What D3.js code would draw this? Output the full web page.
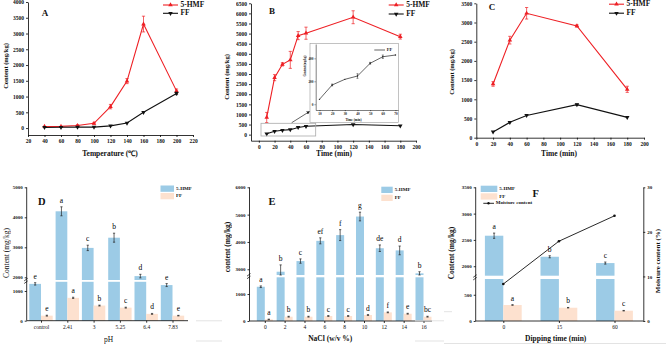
<!DOCTYPE html>
<html><head><meta charset="utf-8">
<script src="https://cdn.jsdelivr.net/npm/d3@7"></script>
<style>html,body{margin:0;padding:0;background:#fff;}svg{display:block;}svg text{opacity:0.999;}</style>
</head><body>
<svg id="fig" width="666" height="348"></svg>
<script>
// ---- Panel A: temperature series ----
const tempX = [40, 60, 80, 100, 120, 140, 160, 200];
const tempHMF = [50, 55, 80, 150, 680, 1490, 3300, 1180];
const tempHMFErr = [20, 20, 25, 30, 70, 80, 250, 60];
const tempFF = [20, 25, 30, 30, 70, 160, 500, 1100];
const tempFFErr = [5, 5, 5, 5, 10, 15, 20, 40];
const tempXTicks = [20, 40, 60, 80, 100, 120, 140, 160, 180, 200, 220];
const tempYTicks = [0, 500, 1000, 1500, 2000, 2500, 3000, 3500, 4000];

// ---- Panel B: frying time series ----
const timeX = [10, 20, 30, 40, 50, 60, 120, 180];
const timeHMF = [850, 2820, 3480, 3700, 4900, 5020, 5810, 4850];
const timeHMFErr = [250, 150, 80, 420, 200, 300, 320, 120];
const timeFF = [43, 168, 217, 246, 357, 414, 500, 440];
const timeFFErr = [5, 8, 6, 20, 8, 15, 20, 15];
const timeXTicks = [0, 20, 40, 60, 80, 100, 120, 140, 160, 180, 200];
const timeYTicks = [0, 500, 1000, 1500, 2000, 2500, 3000, 3500, 4000, 4500, 5000, 5500, 6000, 6500];
// inset: FF over the first 70 min
const insetX = [10, 20, 30, 40, 50, 60, 70];
const insetFF = [43, 168, 217, 246, 357, 414, 429];
const insetFFErr = [5, 8, 6, 20, 8, 15, 5];
const insetXTicks = [10, 20, 30, 40, 50, 60, 70];
const insetYTicks = [0, 200, 400];

// ---- Panel C: roasting time series ----
const roastX = [20, 40, 60, 120, 180];
const roastHMF = [1400, 2540, 3240, 2910, 1260];
const roastHMFErr = [60, 100, 150, 30, 80];
const roastFF = [150, 400, 580, 860, 530];
const roastFFErr = [10, 15, 15, 20, 15];
const roastXTicks = [0, 20, 40, 60, 80, 100, 120, 140, 160, 180, 200];
const roastYTicks = [0, 500, 1000, 1500, 2000, 2500, 3000, 3500];

// ---- Panel D: pH ----
const phCats = ["control", "2.41", "3", "5.25", "6.4", "7.83"];
const phHMF = [1240, 4200, 2980, 3320, 2040, 1200];
const phHMFErr = [40, 150, 90, 150, 60, 50];
const phFF = [170, 770, 510, 440, 230, 170];
const phFFErr = [15, 20, 15, 15, 15, 10];
const phHMFLetters = ["e", "a", "c", "b", "d", "e"];
const phFFLetters = ["e", "a", "b", "c", "d", "e"];

// ---- Panel E: NaCl ----
const saltCats = ["0", "2", "4", "6", "8", "10", "12", "14", "16"];
const saltHMF = [1270, 2910, 3300, 4040, 4250, 4930, 3770, 3690, 2850];
const saltHMFErr = [30, 250, 80, 110, 200, 160, 120, 160, 60];
const saltFF = [60, 160, 160, 185, 185, 222, 320, 270, 160];
const saltFFErr = [10, 15, 15, 15, 15, 15, 15, 15, 15];
const saltHMFLetters = ["a", "b", "c", "ef", "f", "g", "de", "d", "b"];
const saltFFLetters = ["a", "b", "b", "c", "c", "d", "f", "e", "bc"];

// ---- Panel F: dipping time ----
const dipCats = ["0", "15", "60"];
const dipHMF = [2580, 2180, 2060];
const dipHMFErr = [50, 20, 20];
const dipFF = [305, 253, 196];
const dipFFErr = [5, 5, 5];
const dipMoisture = [8.3, 17.9, 23.6];
const dipHMFLetters = ["a", "b", "c"];
const dipFFLetters = ["a", "b", "c"];

const SERIF = "'Liberation Serif','Times New Roman',serif";
const RED = "#ee1f24";
const BLACK = "#111";
const BLUE = "#9ccbe6";
const PEACH = "#fde1cf";
const fmt = d3.format("d");

const svg = d3.select("#fig");

function styleAxis(g, size = 5.5) {
  g.attr("font-family", SERIF).attr("font-size", size);
  g.selectAll("path.domain").attr("stroke", "#000").attr("stroke-width", 0.8);
  g.selectAll(".tick line").attr("stroke", "#000").attr("stroke-width", 0.8);
  g.selectAll(".tick text").attr("font-weight", "bold").attr("fill", "#111");
}

function text(g, x, y, str, opt = {}) {
  const t = g.append("text").attr("x", x).attr("y", y).text(str)
    .attr("font-family", SERIF).attr("font-size", opt.size || 7)
    .attr("font-weight", opt.bold === false ? "normal" : "bold")
    .attr("text-anchor", opt.anchor || "middle")
    .attr("dominant-baseline", opt.baseline || "middle")
    .attr("fill", opt.fill || "#111");
  if (opt.rotate) t.attr("transform", `rotate(${opt.rotate},${x},${y})`);
  return t;
}

function errorBar(g, x, yTop, yBot, cap, color, sw = 0.7) {
  g.append("line").attr("x1", x).attr("x2", x).attr("y1", yTop).attr("y2", yBot)
    .attr("stroke", color).attr("stroke-width", sw);
  [yTop, yBot].forEach(yy => g.append("line").attr("x1", x - cap).attr("x2", x + cap)
    .attr("y1", yy).attr("y2", yy).attr("stroke", color).attr("stroke-width", sw));
}

function marker(g, x, y, down, color, size = 9) {
  g.append("path").attr("d", d3.symbol(d3.symbolTriangle, size)())
    .attr("transform", `translate(${x},${y}) rotate(${down ? 180 : 0})`)
    .attr("fill", color);
}

// line charts with error bars (A, B, C)
function linePanel(p) {
  const g = svg.append("g");
  const x = d3.scaleLinear().domain(p.xDomain).range(p.xRange);
  const y = d3.scaleLinear().domain(p.yDomain).range(p.yRange);
  g.append("g").attr("transform", `translate(0,${p.yRange[0]})`)
    .call(d3.axisBottom(x).tickValues(p.xTicks).tickFormat(fmt).tickSize(2).tickSizeOuter(0).tickPadding(2))
    .call(a => styleAxis(a));
  g.append("g").attr("transform", `translate(${p.xRange[0]},0)`)
    .call(d3.axisLeft(y).tickValues(p.yTicks).tickFormat(fmt).tickSize(2).tickSizeOuter(0).tickPadding(2))
    .call(a => styleAxis(a));
  p.series.forEach(s => {
    const pts = s.x.map((xv, i) => [x(xv), y(s.y[i])]);
    g.append("path").attr("d", d3.line()(pts)).attr("fill", "none")
      .attr("stroke", s.color).attr("stroke-width", 1.1);
    s.x.forEach((xv, i) => {
      const e = s.err[i];
      if (y(s.y[i] - e) - y(s.y[i] + e) > 1.5)
        errorBar(g, x(xv), y(s.y[i] + e), y(s.y[i] - e), 1.6, s.color);
    });
    pts.forEach(pt => marker(g, pt[0], pt[1], s.down, s.color));
  });
  // legend
  p.series.forEach((s, i) => {
    const ly = p.legend.y + i * p.legend.dy;
    g.append("line").attr("x1", p.legend.x).attr("x2", p.legend.x + 15)
      .attr("y1", ly).attr("y2", ly).attr("stroke", s.color).attr("stroke-width", 1.1);
    marker(g, p.legend.x + 7.5, ly, s.down, s.color);
    text(g, p.legend.x + 17.5, ly, s.name, { size: 7.5, anchor: "start" });
  });
  text(g, p.tag.x, p.tag.y, p.tag.t, { size: 9 });
  text(g, p.xTitle.x, p.xTitle.y, p.xTitle.t, { size: 7.5 });
  text(g, p.yTitle.x, p.yTitle.y, p.yTitle.t, { size: 6.5, rotate: -90 });
  return { g, x, y };
}

linePanel({
  xDomain: [20, 220], xRange: [28, 193], yDomain: [-220, 4000], yRange: [135, 2],
  xTicks: tempXTicks, yTicks: tempYTicks,
  series: [
    { name: "5-HMF", x: tempX, y: tempHMF, err: tempHMFErr, color: RED, down: false },
    { name: "FF", x: tempX, y: tempFF, err: tempFFErr, color: BLACK, down: true }
  ],
  legend: { x: 163, y: 5, dy: 8.3 },
  tag: { x: 45, y: 14, t: "A" },
  xTitle: { x: 110, y: 154.5, t: "Temperature (℃)" },
  yTitle: { x: 7, y: 66, t: "Content (mg/kg)" }
});

const B = linePanel({
  xDomain: [-10, 200], xRange: [251, 416], yDomain: [-300, 6500], yRange: [140.7, 3.3],
  xTicks: timeXTicks, yTicks: timeYTicks,
  series: [
    { name: "5-HMF", x: timeX, y: timeHMF, err: timeHMFErr, color: RED, down: false },
    { name: "FF", x: timeX, y: timeFF, err: timeFFErr, color: BLACK, down: true }
  ],
  legend: { x: 388.7, y: 5, dy: 9 },
  tag: { x: 272, y: 12, t: "B" },
  xTitle: { x: 334, y: 154.5, t: "Time (min)" },
  yTitle: { x: 228, y: 77, t: "Content (mg/kg)" }
});

// zoom window on the early FF values and its pointer to the inset
B.g.append("rect").attr("x", 261).attr("y", 123.3).attr("width", 54.7).attr("height", 12.7)
  .attr("fill", "none").attr("stroke", "#aaa").attr("stroke-width", 0.8);
svg.append("defs").append("marker").attr("id", "arr").attr("viewBox", "0 0 6 6")
  .attr("refX", 5).attr("refY", 3).attr("markerWidth", 5).attr("markerHeight", 5)
  .attr("orient", "auto").append("path").attr("d", "M0,0L6,3L0,6Z").attr("fill", "#222");
B.g.append("line").attr("x1", 291.7).attr("y1", 122.7).attr("x2", 309.5).attr("y2", 111.5)
  .attr("stroke", "#222").attr("stroke-width", 0.7).attr("marker-end", "url(#arr)");

// inset
(function inset() {
  const g = svg.append("g");
  g.append("rect").attr("x", 310).attr("y", 43.5).attr("width", 88.3).attr("height", 79)
    .attr("fill", "#fff").attr("stroke", "#999").attr("stroke-width", 0.6);
  const x = d3.scaleLinear().domain([7, 72]).range([315.7, 398]);
  const y = d3.scaleLinear().domain([-50, 525]).range([110, 44]);
  g.append("g").attr("transform", "translate(0,110)")
    .call(d3.axisBottom(x).tickValues(insetXTicks).tickFormat(fmt).tickSize(1.2).tickSizeOuter(0).tickPadding(1))
    .call(a => styleAxis(a, 3.4));
  g.append("g").attr("transform", "translate(315.7,0)")
    .call(d3.axisLeft(y).tickValues(insetYTicks).tickFormat(fmt).tickSize(1.2).tickSizeOuter(0).tickPadding(1))
    .call(a => styleAxis(a, 3.4));
  g.selectAll(".domain,.tick line").attr("stroke-width", 0.5);
  const pts = insetX.map((v, i) => [x(v), y(insetFF[i])]);
  g.append("path").attr("d", d3.line()(pts)).attr("fill", "none").attr("stroke", "#222").attr("stroke-width", 0.7);
  insetX.forEach((v, i) => {
    const e = insetFFErr[i];
    if (y(insetFF[i] - e) - y(insetFF[i] + e) > 1.5)
      errorBar(g, x(v), y(insetFF[i] + e), y(insetFF[i] - e), 1, "#222", 0.5);
  });
  g.selectAll(null).data(pts).join("circle").attr("cx", d => d[0]).attr("cy", d => d[1])
    .attr("r", 0.7).attr("fill", "#222");
  g.append("line").attr("x1", 374.3).attr("x2", 385).attr("y1", 50).attr("y2", 50)
    .attr("stroke", "#222").attr("stroke-width", 0.7);
  text(g, 386.7, 50, "FF", { size: 4.5, anchor: "start" });
  text(g, 353.5, 120.5, "Time (min)", { size: 3.4 });
  text(g, 305, 66, "Content (mg/kg)", { size: 3, rotate: -90 });
})();

linePanel({
  xDomain: [0, 200], xRange: [476.3, 644], yDomain: [0, 3500], yRange: [137.7, 3.3],
  xTicks: roastXTicks, yTicks: roastYTicks,
  series: [
    { name: "5-HMF", x: roastX, y: roastHMF, err: roastHMFErr, color: RED, down: false },
    { name: "FF", x: roastX, y: roastFF, err: roastFFErr, color: BLACK, down: true }
  ],
  legend: { x: 609, y: 4.2, dy: 9 },
  tag: { x: 492, y: 7.5, t: "C" },
  xTitle: { x: 559, y: 154.5, t: "Time (min)" },
  yTitle: { x: 453, y: 72, t: "Content (mg/kg)" }
});

// grouped bar charts on a broken y axis (D, E, F)
function barPanel(p) {
  const g = svg.append("g");
  const lo = d3.scaleLinear().domain(p.lower.domain).range(p.lower.range);
  const hi = d3.scaleLinear().domain(p.upper.domain).range(p.upper.range);
  const loMax = p.lower.domain[1];
  const yMap = v => v <= loMax ? lo(v) : hi(Math.max(v, p.upper.domain[0]));
  const y0 = p.lower.range[0];
  const xc = d3.scalePoint().domain(p.cats).range(p.centers);
  const w = p.barW;
  const series = [
    { vals: p.hmf, err: p.hmfErr, letters: p.hmfLetters, color: BLUE, off: -w },
    { vals: p.ff, err: p.ffErr, letters: p.ffLetters, color: PEACH, off: 0 }
  ];
  series.forEach(s => {
    s.vals.forEach((v, i) => {
      const x0 = xc(p.cats[i]) + s.off;
      if (v <= loMax) {
        g.append("rect").attr("x", x0).attr("y", lo(v)).attr("width", w).attr("height", y0 - lo(v)).attr("fill", s.color);
      } else {
        g.append("rect").attr("x", x0).attr("y", p.lower.range[1]).attr("width", w)
          .attr("height", y0 - p.lower.range[1]).attr("fill", s.color);
        g.append("rect").attr("x", x0).attr("y", hi(v)).attr("width", w)
          .attr("height", p.upper.range[0] - hi(v)).attr("fill", s.color);
      }
    });
  });
  series.forEach(s => {
    s.vals.forEach((v, i) => {
      const cx = xc(p.cats[i]) + s.off + w / 2;
      const top = yMap(v + s.err[i]);
      errorBar(g, cx, top, yMap(v - s.err[i]), 1.1, "#222", 0.7);
      text(g, cx, top - 4, s.letters[i], { size: 7.5, bold: false, baseline: "auto", fill: "#000" });
    });
  });
  // axes
  const left = p.axisX;
  g.append("line").attr("x1", left).attr("x2", left).attr("y1", y0).attr("y2", p.upper.range[1])
    .attr("stroke", "#000").attr("stroke-width", 0.8);
  g.append("line").attr("x1", left).attr("x2", p.axisRight).attr("y1", y0).attr("y2", y0)
    .attr("stroke", "#000").attr("stroke-width", 0.8);
  g.append("g").attr("transform", `translate(${left},0)`)
    .call(d3.axisLeft(lo).tickValues(p.lower.ticks).tickFormat(fmt).tickSize(2).tickSizeOuter(0).tickPadding(2))
    .call(a => { styleAxis(a, 5); a.select(".domain").remove(); });
  g.append("g").attr("transform", `translate(${left},0)`)
    .call(d3.axisLeft(hi).tickValues(p.upper.ticks).tickFormat(fmt).tickSize(2).tickSizeOuter(0).tickPadding(2))
    .call(a => { styleAxis(a, 5); a.select(".domain").remove(); });
  g.append("g").attr("transform", `translate(0,${y0})`)
    .call(d3.axisBottom(xc).tickSize(2).tickSizeOuter(0).tickPadding(2.5))
    .call(a => { styleAxis(a, 5.5); a.select(".domain").remove(); a.selectAll(".tick text").attr("font-weight", "normal"); });
  // break marks on the value axis
  const by = (p.lower.range[1] + p.upper.range[0]) / 2;
  [-1.3, 1.3].forEach(d => g.append("line")
    .attr("x1", left - 2.5).attr("x2", left + 1).attr("y1", by + d + 1.3).attr("y2", by + d - 1.3)
    .attr("stroke", "#000").attr("stroke-width", 0.7));
  // legend
  [["5-HMF", BLUE], ["FF", PEACH]].forEach(([name, col], i) => {
    const ly = p.legend.y + i * p.legend.dy;
    g.append("rect").attr("x", p.legend.x).attr("y", ly).attr("width", p.legend.w).attr("height", 6.3).attr("fill", col);
    text(g, p.legend.x + p.legend.w + 2, ly + 3.3, name, { size: 5, anchor: "start" });
  });
  text(g, p.tag.x, p.tag.y, p.tag.t, { size: 10.5 });
  text(g, p.xTitle.x, p.xTitle.y, p.xTitle.t, { size: 7.5, bold: p.xTitle.bold });
  text(g, p.yTitle.x, p.yTitle.y, p.yTitle.t, { size: 7.5, rotate: -90, bold: p.yTitle.bold });
  return { g, xc, y0 };
}

barPanel({
  cats: phCats, hmf: phHMF, hmfErr: phHMFErr, ff: phFF, ffErr: phFFErr,
  hmfLetters: phHMFLetters, ffLetters: phFFLetters,
  lower: { domain: [0, 1310], range: [320.7, 281.8], ticks: [0, 1000] },
  upper: { domain: [1910, 5000], range: [280, 187.3], ticks: [2000, 3000, 4000, 5000] },
  centers: [41, 172.5], barW: 11.7, axisX: 26.7, axisRight: 188,
  legend: { x: 160.5, y: 185.5, dy: 7.5, w: 13.5 },
  tag: { x: 41.7, y: 202.5, t: "D" },
  xTitle: { x: 108.7, y: 340.5, t: "pH", bold: false },
  yTitle: { x: 7, y: 253, t: "Content (mg/kg)", bold: false }
});

barPanel({
  cats: saltCats, hmf: saltHMF, hmfErr: saltHMFErr, ff: saltFF, ffErr: saltFFErr,
  hmfLetters: saltHMFLetters, ffLetters: saltFFLetters,
  lower: { domain: [0, 1620], range: [321, 277.3], ticks: [0, 1000] },
  upper: { domain: [2790, 6000], range: [275, 187.3], ticks: [3000, 4000, 5000, 6000] },
  centers: [264.8, 423.5], barW: 8, axisX: 249.5, axisRight: 432,
  legend: { x: 381.3, y: 186.7, dy: 8, w: 11.4 },
  tag: { x: 272, y: 202.5, t: "E" },
  xTitle: { x: 330.3, y: 339.3, t: "NaCl (w/v %)", bold: true },
  yTitle: { x: 228, y: 247, t: "content (mg/kg)", bold: true }
});

const F = barPanel({
  cats: dipCats, hmf: dipHMF, hmfErr: dipHMFErr, ff: dipFF, ffErr: dipFFErr,
  hmfLetters: dipHMFLetters, ffLetters: dipFFLetters,
  lower: { domain: [0, 800], range: [321, 279], ticks: [0, 500] },
  upper: { domain: [1820, 3500], range: [275.7, 187.3], ticks: [2000, 2500, 3000, 3500] },
  centers: [503.3, 614.5], barW: 18.4, axisX: 475.7, axisRight: 643.3,
  legend: { x: 480.7, y: 185.7, dy: 7.6, w: 16.6 },
  tag: { x: 535.7, y: 195, t: "F" },
  xTitle: { x: 555.7, y: 339.3, t: "Dipping time (min)", bold: true },
  yTitle: { x: 452.3, y: 253, t: "Content (mg/kg)", bold: true }
});

// moisture content on the right-hand axis of F
(function moisture() {
  const g = F.g;
  const yr = d3.scaleLinear().domain([0, 30]).range([321, 187.3]);
  g.append("g").attr("transform", "translate(643.3,0)")
    .call(d3.axisRight(yr).tickValues([0, 10, 20, 30]).tickFormat(fmt).tickSize(2).tickSizeOuter(0).tickPadding(2))
    .call(a => styleAxis(a, 5));
  const pts = dipCats.map((c, i) => [F.xc(c), yr(dipMoisture[i])]);
  g.append("path").attr("d", d3.line()(pts)).attr("fill", "none").attr("stroke", "#111").attr("stroke-width", 0.9);
  g.selectAll(null).data(pts).join("circle").attr("cx", d => d[0]).attr("cy", d => d[1]).attr("r", 1.3).attr("fill", "#111");
  g.append("line").attr("x1", 483.3).attr("x2", 494).attr("y1", 203.3).attr("y2", 203.3).attr("stroke", "#111").attr("stroke-width", 0.9);
  g.append("circle").attr("cx", 488.5).attr("cy", 203.3).attr("r", 1.2).attr("fill", "#111");
  text(g, 495.7, 203.3, "Moisture content", { size: 5, anchor: "start" });
  text(g, 658.5, 261, "Moisture content (%)", { size: 7, rotate: -90 });
})();

// faint frame edges around the lower panels
const edges = [
  [196, 222, 320.8], [196, 222, 341], [415, 444, 320.8], [415, 444, 341], [444, 452, 311.7], [444, 666, 343.5]
];
edges.forEach(([x1, x2, y]) => svg.append("line").attr("x1", x1).attr("x2", x2).attr("y1", y).attr("y2", y)
  .attr("stroke", "#e3e3e3").attr("stroke-width", 1));
</script>
</body></html>
